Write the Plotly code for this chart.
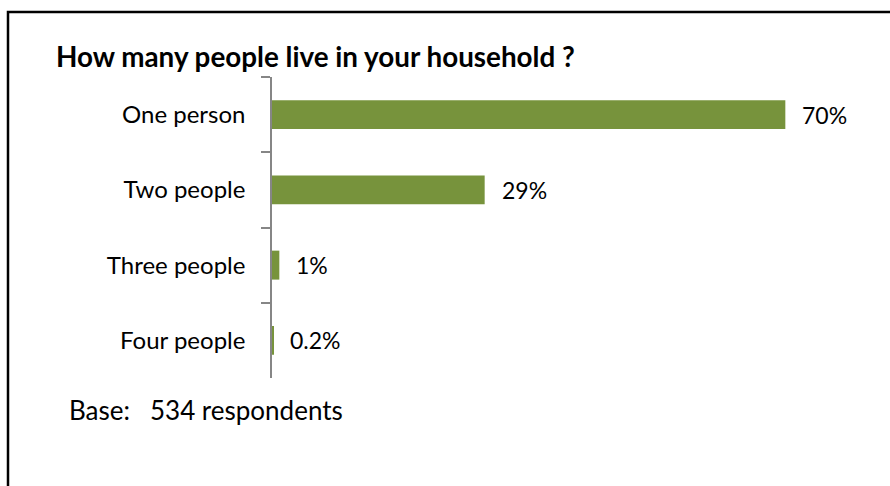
import plotly.graph_objects as go

# Survey: household size
categories = ["One person", "Two people", "Three people", "Four people"]
shares = [70, 29, 1, 0.2]
share_labels = ["70%", "29%", "1%", "0.2%"]

title_text = "How many people live in your household ?"
base_text = "Base:&nbsp;&nbsp;&nbsp;534 respondents"

W, H = 890, 486
FONT = "Lato"
BAR_COLOR = "#77933C"
AXIS_COLOR = "#868686"


def px_x(x):
    return x / W


def px_y(y):
    return 1 - y / H


fig = go.Figure(
    go.Bar(
        y=categories,
        x=shares,
        orientation="h",
        marker=dict(color=BAR_COLOR, line=dict(width=0)),
        hoverinfo="skip",
    )
)

# value labels to the right of each bar
for cat, val, lab in zip(categories, shares, share_labels):
    fig.add_annotation(
        x=val, y=cat, xref="x", yref="y",
        text=lab, showarrow=False,
        xanchor="left", yanchor="middle", xshift=15,
        font=dict(family=FONT, size=23, color="#000000"),
    )

fig.update_layout(
    width=W, height=H,
    margin=dict(l=0, r=0, t=0, b=0),
    paper_bgcolor="white",
    plot_bgcolor="white",
    showlegend=False,
    bargap=0.615,
    font=dict(family=FONT, size=24, color="#000000"),
    xaxis=dict(
        domain=[px_x(272), px_x(844)],
        range=[0, 78],
        visible=False,
        fixedrange=True,
    ),
    yaxis=dict(
        domain=[px_y(378), px_y(77)],
        type="category",
        categoryorder="array",
        categoryarray=categories,
        autorange="reversed",
        showline=True,
        linecolor=AXIS_COLOR,
        linewidth=1.5,
        ticks="outside",
        tickson="boundaries",
        ticklen=9,
        tickcolor=AXIS_COLOR,
        tickwidth=1.5,
        ticklabelstandoff=20,
        tickfont=dict(family=FONT, size=24, color="#000000"),
        showgrid=False,
        zeroline=False,
        fixedrange=True,
    ),
)

# title and base note
fig.add_annotation(
    x=px_x(54), y=px_y(56), xref="paper", yref="paper",
    text="<b>" + title_text + "</b>", showarrow=False,
    xanchor="left", yanchor="middle",
    font=dict(family=FONT, size=27.8, color="#000000"),
)
fig.add_annotation(
    x=px_x(67), y=px_y(410), xref="paper", yref="paper",
    text=base_text, showarrow=False,
    xanchor="left", yanchor="middle",
    font=dict(family=FONT, size=26, color="#000000"),
)

# outer frame
fig.add_shape(
    type="rect", xref="paper", yref="paper",
    x0=px_x(8), y0=-0.05, x1=1.05, y1=px_y(12),
    line=dict(color="#000000", width=2.5),
    fillcolor="rgba(0,0,0,0)",
)

fig.write_html("out.html")
